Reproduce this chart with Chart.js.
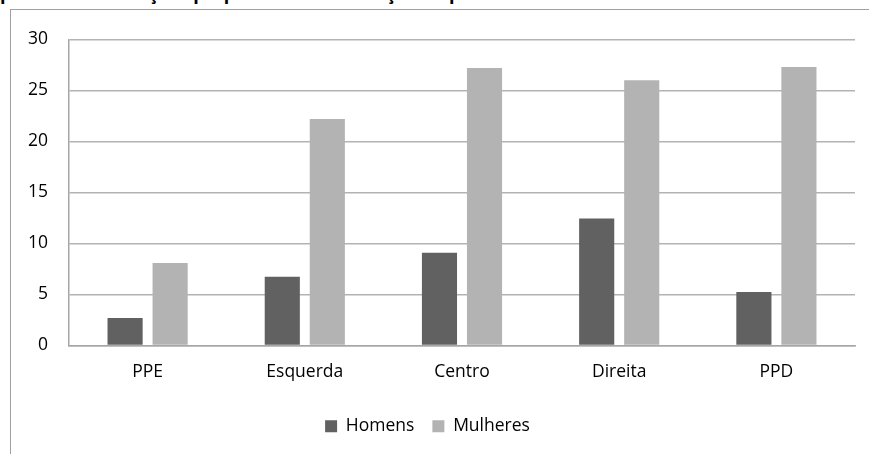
<!DOCTYPE html>
<html>
<head>
<meta charset="utf-8">
<script src="https://cdn.jsdelivr.net/npm/chart.js@4"></script>
<style>
  html, body { margin: 0; padding: 0; background: #fff; overflow: hidden; }
  #wrap { position: relative; width: 869px; height: 454px; }
  #title { position: absolute; left: 0; top: -19px; font: bold 18px "Open Sans", sans-serif; color: #000; white-space: nowrap; }
  #frame { position: absolute; left: 10px; top: 9px; width: 870px; height: 460px; border-left: 1.5px solid #a0a0a0; border-top: 1.5px solid #a0a0a0; background: transparent; }
  canvas { position: absolute; left: 0; top: 0; }
</style>
</head>
<body>
<div id="wrap">
  <div id="title">partidos nas eleições proporcionais em função do partido</div>
  <div id="frame"></div>
  <canvas id="chart" width="869" height="454"></canvas>
</div>
<script>
// categories and values
const categories = ['PPE', 'Esquerda', 'Centro', 'Direita', 'PPD'];
const homens = [2.7, 6.75, 9.1, 12.45, 5.25];
const mulheres = [8.1, 22.2, 27.2, 26.0, 27.3];
const yTicks = [0, 5, 10, 15, 20, 25, 30];

const font = { family: '"Open Sans", sans-serif', size: 17.5 };

const config = {
    type: 'bar',
    data: {
        labels: categories,
        datasets: [{
            label: 'Homens',
            data: homens,
            backgroundColor: '#616161'
        }, {
            label: 'Mulheres',
            data: mulheres,
            backgroundColor: '#b3b3b3'
        }]
    },
    options: {
        responsive: false,
        animation: false,
        categoryPercentage: 0.573,
        barPercentage: 0.78,
        layout: { padding: { top: 39.5, right: 14, left: 0, bottom: 9 } },
        scales: {
            x: {
                grid: { display: false, drawTicks: false },
                border: { color: '#a6a6a6', width: 1.5 },
                ticks: { color: '#000', font: font, padding: 16 },
                afterFit: (s) => { s.height = 54; }
            },
            y: {
                min: 0,
                max: 30,
                afterBuildTicks: (s) => { s.ticks = yTicks.map(v => ({ value: v })); },
                grid: { color: '#b3b3b3', lineWidth: 1.5, drawTicks: false },
                border: { color: '#a6a6a6', width: 1.5 },
                ticks: { color: '#000', font: font, padding: 21 },
                afterFit: (s) => { s.width = 69; }
            }
        },
        plugins: {
            legend: {
                position: 'bottom',
                labels: { color: '#000', font: font, boxWidth: 12, boxHeight: 12, padding: 18 }
            },
            tooltip: { enabled: false }
        }
    }
};

const chart = new Chart(document.getElementById('chart'), config);
</script>
</body>
</html>
